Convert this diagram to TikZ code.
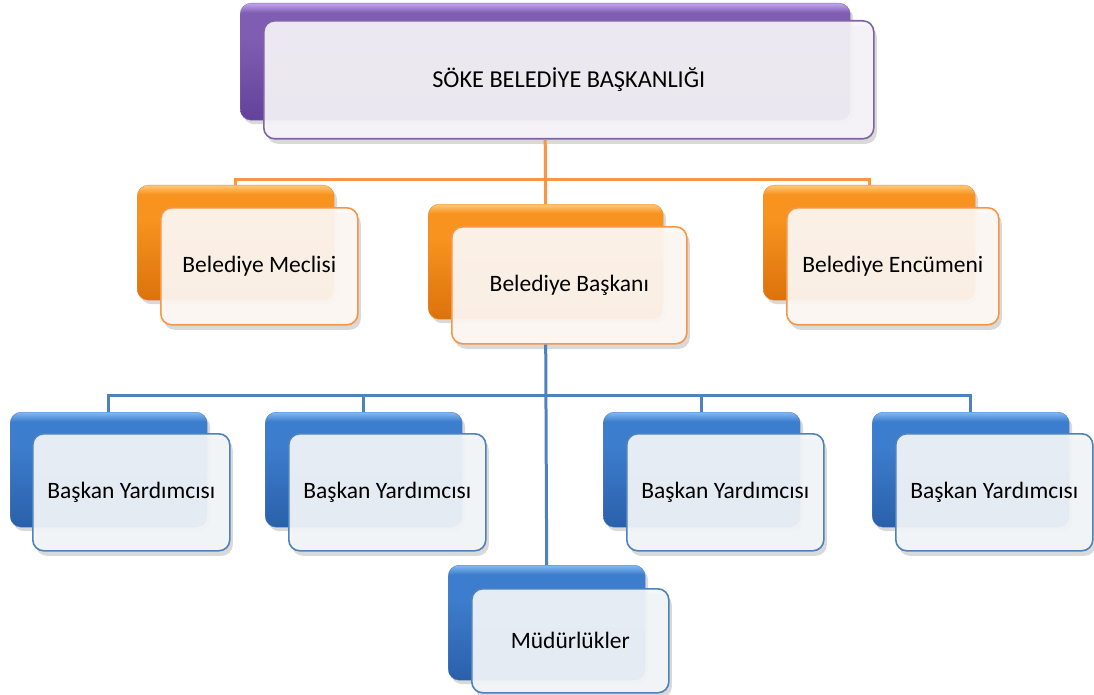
\documentclass[tikz,border=0pt]{standalone}
\usepackage{fontspec}
\setmainfont{Carlito}
\usetikzlibrary{shadows,positioning}

\definecolor{morust}{HTML}{C2A6F0}
\definecolor{morort}{HTML}{7F5DB2}
\definecolor{moralt}{HTML}{62429A}
\definecolor{morcizgi}{HTML}{8064A2}
\definecolor{turuncust}{HTML}{FFC878}
\definecolor{turuncort}{HTML}{F7931E}
\definecolor{turuncalt}{HTML}{DC720C}
\definecolor{turuncizgi}{HTML}{F79646}
\definecolor{mavust}{HTML}{82BAF4}
\definecolor{mavort}{HTML}{3D7DCD}
\definecolor{mavalt}{HTML}{2A60AA}
\definecolor{mavcizgi}{HTML}{4F81BD}

% ust kenarda ince parlaklik
\pgfdeclareverticalshading{morparlak}{100bp}{color(0bp)=(moralt); color(25bp)=(moralt);
  color(60bp)=(morort); color(71bp)=(morort); color(75bp)=(morust); color(100bp)=(morust)}
\pgfdeclareverticalshading{turuncuparlak}{100bp}{color(0bp)=(turuncalt); color(25bp)=(turuncalt);
  color(60bp)=(turuncort); color(71bp)=(turuncort); color(75bp)=(turuncust); color(100bp)=(turuncust)}
\pgfdeclareverticalshading{maviparlak}{100bp}{color(0bp)=(mavalt); color(25bp)=(mavalt);
  color(60bp)=(mavort); color(71bp)=(mavort); color(75bp)=(mavust); color(100bp)=(mavust)}

\tikzset{
  arka/.style={rounded corners=11pt, minimum width=197pt, minimum height=115pt,
    anchor=north west, drop shadow={opacity=0.3, shadow xshift=3pt, shadow yshift=-4pt}},
  on/.style={rounded corners=11pt, line width=1.6pt, minimum width=197pt, minimum height=117pt,
    anchor=north west, fill opacity=0.92, text opacity=1, font=\fontsize{23.5}{27}\selectfont,
    drop shadow={opacity=0.3, shadow xshift=3pt, shadow yshift=-5pt}},
  mor arka/.style={arka, shading=morparlak, draw=moralt!80},
  mor on/.style={on, draw=morcizgi, fill=white!93!morcizgi},
  turuncu arka/.style={arka, shading=turuncuparlak, draw=turuncalt!80},
  turuncu on/.style={on, draw=turuncizgi, fill=white!94!turuncizgi},
  mavi arka/.style={arka, shading=maviparlak, draw=mavalt!80},
  mavi on/.style={on, draw=mavcizgi, fill=white!93!mavcizgi},
  turuncu hat/.style={draw=turuncizgi, line width=3pt},
  mavi hat/.style={draw=mavcizgi, line width=3pt}
}

\begin{document}
\begin{tikzpicture}[x=1pt,y=-1pt]
  \useasboundingbox (0,0) rectangle (1094,695);

  % ust kutu
  \node[mor arka, minimum width=610pt, minimum height=117pt] (baskanlik-arka) at (240,3) {};
  \node[mor on, minimum width=610pt, minimum height=118pt, font=\fontsize{24.3}{28}\selectfont] (baskanlik) at (263,20) {SÖKE BELEDİYE BAŞKANLIĞI};

  % ikinci sira
  \node[turuncu arka] (meclis-arka) at (137,185) {};
  \node[turuncu on] (meclis) at (160,207) {Belediye Meclisi};
  \node[turuncu arka, minimum width=235pt] (baskan-arka) at (428,204) {};
  \node[turuncu on, minimum width=235pt] (baskan) at (451,226) {Belediye Başkanı};
  \node[turuncu arka, minimum width=212pt] (encumen-arka) at (763,185) {};
  \node[turuncu on, minimum width=212pt] (encumen) at (786,207) {Belediye Encümeni};

  % ucuncu sira
  \node[mavi arka] (yrd1-arka) at (10,412) {};
  \node[mavi on] (yrd1) at (32,433) {Başkan Yardımcısı};
  \node[mavi arka] (yrd2-arka) at (265,412) {};
  \node[mavi on] (yrd2) at (288,433) {Başkan Yardımcısı};
  \node[mavi arka] (yrd3-arka) at (603,412) {};
  \node[mavi on] (yrd3) at (626,433) {Başkan Yardımcısı};
  \node[mavi arka] (yrd4-arka) at (872,412) {};
  \node[mavi on] (yrd4) at (895,433) {Başkan Yardımcısı};
  \node[mavi arka] (mudurluk-arka) at (448,565) {};
  \node[mavi on, minimum height=104pt] (mudurluk) at (471,588) {Müdürlükler};

  % baglantilar
  \coordinate (turuncu-bus) at (545,180);
  \coordinate (mavi-bus) at (545,395);
  \draw[turuncu hat] (baskanlik.south -| baskanlik-arka.south) -- (baskan-arka.north);
  \draw[turuncu hat] (meclis-arka.north) |- (turuncu-bus) -| (encumen-arka.north);
  \draw[mavi hat] (baskan.south -| baskan-arka.south) -- (mudurluk-arka.north);
  \draw[mavi hat] (yrd1-arka.north) |- (mavi-bus) -| (yrd4-arka.north);
  \foreach \k in {yrd2,yrd3}
    \draw[mavi hat] (\k-arka.north) -- (\k-arka.north |- mavi-bus);
\end{tikzpicture}
\end{document}
